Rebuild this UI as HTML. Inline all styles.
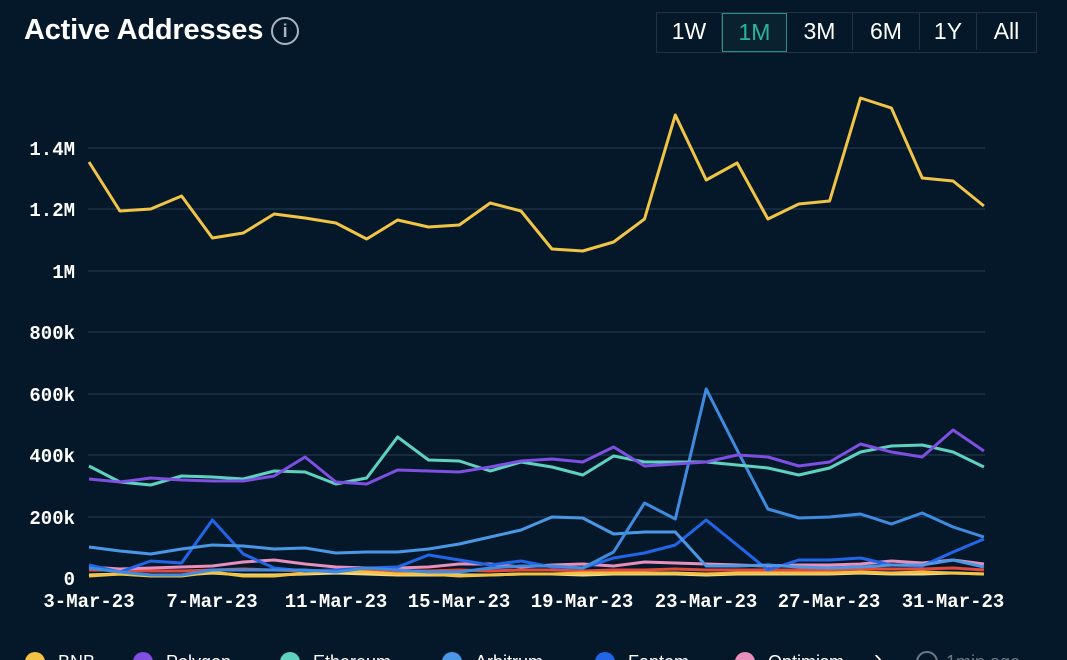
<!DOCTYPE html><html><head><style>
body{margin:0;background:#051829;width:1067px;height:660px;overflow:hidden;font-family:"Liberation Sans",sans-serif}
.t{position:absolute;left:24px;top:14px;color:#fff;font-size:29px;font-weight:bold;letter-spacing:-0.2px}
.btns{position:absolute;left:656px;top:12px;display:flex;border:1px solid #1d3447}
.btns div{height:37px;line-height:37px;color:#fff;font-size:23px;text-align:center;border-right:1px solid #1d3447}
.btns .a{color:#2bb39a;border:1px solid #2a8f80;background:#0a2230}
</style></head><body>
<div class="t">Active Addresses <span style="display:inline-block;width:24px;height:24px;border:2.5px solid #aab4bf;border-radius:50%;color:#aab4bf;font-size:18px;line-height:24px;text-align:center;vertical-align:2px">i</span></div>
<div class="btns"><div style="width:64px">1W</div><div class="a" style="width:63px">1M</div><div style="width:65px">3M</div><div style="width:66px">6M</div><div style="width:56px">1Y</div><div style="width:59px;border:none">All</div></div>
<svg width="1067" height="660" style="position:absolute;left:0;top:0" font-family="Liberation Mono,monospace" font-weight="bold" font-size="19">
<g stroke="#1c3148" stroke-width="1.5">
<line x1="88" x2="985" y1="148" y2="148"/><line x1="88" x2="985" y1="209" y2="209"/><line x1="88" x2="985" y1="271" y2="271"/><line x1="88" x2="985" y1="332" y2="332"/><line x1="88" x2="985" y1="394" y2="394"/><line x1="88" x2="985" y1="455" y2="455"/><line x1="88" x2="985" y1="517" y2="517"/></g>
<g fill="#fff" text-anchor="end">
<text x="75" y="155">1.4M</text><text x="75" y="216">1.2M</text><text x="75" y="278">1M</text><text x="75" y="339">800k</text><text x="75" y="401">600k</text><text x="75" y="462">400k</text><text x="75" y="524">200k</text><text x="75" y="585">0</text></g>
<g fill="#fff" text-anchor="middle">
<text x="89" y="607">3-Mar-23</text><text x="212" y="607">7-Mar-23</text><text x="336" y="607">11-Mar-23</text><text x="459" y="607">15-Mar-23</text><text x="582" y="607">19-Mar-23</text><text x="706" y="607">23-Mar-23</text><text x="829" y="607">27-Mar-23</text><text x="953" y="607">31-Mar-23</text></g>
<g id="ser" fill="none" stroke-width="3" stroke-linejoin="round"></g>
<g font-family="Liberation Sans,sans-serif" font-weight="normal" font-size="18" fill="#fff">
<circle cx="35" cy="662" r="10" fill="#f3c244"/><text x="58" y="668">BNB</text>
<circle cx="143" cy="662" r="10" fill="#7e4fe0"/><text x="166" y="668">Polygon</text>
<circle cx="290" cy="662" r="10" fill="#5fd1c1"/><text x="313" y="668">Ethereum</text>
<circle cx="452" cy="662" r="10" fill="#4a97e6"/><text x="475" y="668">Arbitrum</text>
<circle cx="605" cy="662" r="10" fill="#2166e8"/><text x="628" y="668">Fantom</text>
<circle cx="745" cy="662" r="10" fill="#e78fbd"/><text x="768" y="668">Optimism</text>
<text x="874" y="666" font-size="24">›</text>
<circle cx="927" cy="662" r="10" fill="none" stroke="#6a7785" stroke-width="2"/><text x="946" y="668" fill="#6a7785">1min ago</text>
</g>
</svg>
<script>
var S=[
["#e24a3e",[570,570,571,571,570,569,570,571,570,570,571,571,570,571,570,570,571,570,570,569,570,570,570,570,570,569,569,569,568,570]],
["#f5d98a",[575,574,575,575,573,575,575,574,573,574,575,575,575,575,574,574,575,574,574,574,575,574,574,574,574,573,574,574,573,574]],
["#f3c244",[576,574,576,576,572,576,576,573,571,572,574,574,576,575,574,574,573,573,573,573,574,573,573,573,573,572,573,572,573,574]],
["#e78fbd",[567,569,568,567,566,562,560,564,567,568,568,567,564,564,567,565,564,566,562,563,564,565,566,565,565,564,561,563,560,564]],
["#2166e8",[565,572,561,563,520,554,568,571,570,568,567,555,560,565,561,567,568,558,553,545,520,545,570,560,560,558,565,566,552,539]],
["#4a97e6",[547,551,554,549,545,546,549,548,553,552,552,549,544,537,530,517,518,534,532,532,566,566,565,567,568,567,565,565,560,567]],
["#3f8be0",[568,572,575,575,570,570,570,570,572,568,570,572,572,568,566,566,568,552,503,519,389,450,509,518,517,514,524,513,527,537]],
["#5fd1c1",[466,482,485,476,477,479,471,472,484,478,437,460,461,471,462,467,475,456,462,462,462,465,468,475,468,452,446,445,452,467]],
["#7e4fe0",[479,482,478,480,481,481,476,457,482,484,470,471,472,467,461,459,462,447,466,464,462,455,457,466,462,444,452,457,430,451]],
["#f0c447",[162,211,209,196,238,233,214,218,223,239,220,227,225,203,211,249,251,242,219,115,180,163,219,204,201,98,108,178,181,206]]];
var g=document.getElementById('ser'),h='';
S.forEach(function(s){h+='<polyline stroke="'+s[0]+'" points="'+s[1].map(function(v,i){return (89+i*30.86).toFixed(1)+','+v}).join(' ')+'"/>'});
g.innerHTML=h;
</script>
</body></html>
